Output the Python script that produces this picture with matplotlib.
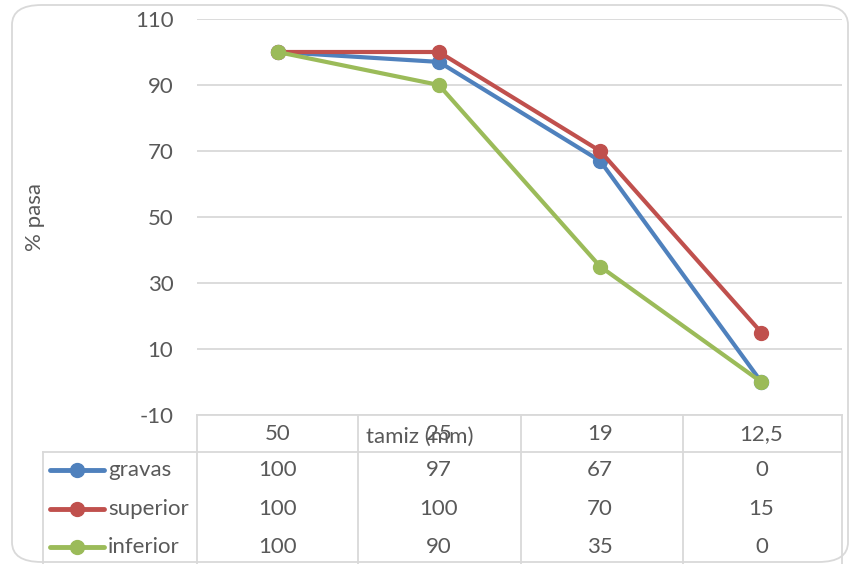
import matplotlib.pyplot as plt
from matplotlib.patches import FancyBboxPatch
from matplotlib.lines import Line2D
from matplotlib.transforms import blended_transform_factory

# data
categories = ["50", "25", "19", "12,5"]
gravas = [100, 97, 67, 0]
superior = [100, 100, 70, 15]
inferior = [100, 90, 35, 0]
series_names = ["gravas", "superior", "inferior"]
series_values = [gravas, superior, inferior]
colors = ["#4F81BD", "#C0504D", "#9BBB59"]

plt.rcParams['font.family'] = ['Lato', 'DejaVu Sans']
plt.rcParams['axes.unicode_minus'] = False
txt = "#595959"
grid = "#D9D9D9"
fs = 16
W, H = 850, 564

fig = plt.figure(figsize=(W / 100, H / 100), dpi=100)

def fx(px):
    return px / W

def fy(py):
    return 1 - py / H

# chart border (rounded)
fig.patches.append(FancyBboxPatch((fx(12), fy(562)), fx(836), (562 - 5) / H,
                                  boxstyle="round,pad=0,rounding_size=0.035",
                                  transform=fig.transFigure, fc="white",
                                  ec="#D9D9D9", lw=1.3, zorder=-5))

ax = fig.add_axes([fx(197), fy(415), fx(842 - 197), (415 - 19) / H])
ax.set_facecolor("none")
ax.set_xlim(-0.5, len(categories) - 0.5)
ax.set_ylim(-10, 110)
ax.set_yticks(range(-10, 111, 20))
ax.set_xticks([])
ax.tick_params(axis="y", length=0, labelsize=fs, labelcolor=txt, pad=17)
for s in ax.spines.values():
    s.set_visible(False)
ax.yaxis.grid(True, color=grid, lw=1.3)
ax.set_axisbelow(True)
ax.set_ylabel("% pasa", fontsize=fs, color=txt)
ax.yaxis.set_label_coords(fx(45 - 197) / fx(645), 0.5)

x = range(len(categories))
for name, vals, c in zip(series_names, series_values, colors):
    ax.plot(x, vals, color=c, lw=3, marker="o", ms=10, zorder=3, clip_on=False)

# data table
tr = blended_transform_factory(ax.transData, fig.transFigure)
def tline(xs, ys):
    fig.add_artist(Line2D(xs, ys, transform=fig.transFigure, color=grid, lw=1.3))

tline([fx(197), fx(842)], [fy(415), fy(415)])
tline([fx(43), fx(842)], [fy(452), fy(452)])
tline([fx(43), fx(43)], [fy(452), fy(564)])
for xp in [197, 358, 521, 683, 842]:
    tline([fx(xp), fx(xp)], [fy(415), fy(564)])

for i, cat in enumerate(categories):
    fig.text(i, fy(434), cat, transform=tr, ha="center", va="center",
             fontsize=fs, color=txt)
fig.text(fx(420), fy(437), "tamiz (mm)", ha="center", va="center",
         fontsize=fs, color=txt)

row_y = [470, 509, 547]
for name, vals, c, yp in zip(series_names, series_values, colors, row_y):
    fig.add_artist(Line2D([fx(50), fx(104)], [fy(yp), fy(yp)], transform=fig.transFigure,
                          color=c, lw=3.5, solid_capstyle="round"))
    fig.add_artist(Line2D([fx(77)], [fy(yp)], transform=fig.transFigure,
                          color=c, marker="o", ms=10, lw=0))
    fig.text(fx(108), fy(yp), name, ha="left", va="center", fontsize=fs, color=txt)
    for i, v in enumerate(vals):
        fig.text(i, fy(yp), str(v), transform=tr, ha="center", va="center",
                 fontsize=fs, color=txt)

fig.savefig("out.png", dpi=100)
